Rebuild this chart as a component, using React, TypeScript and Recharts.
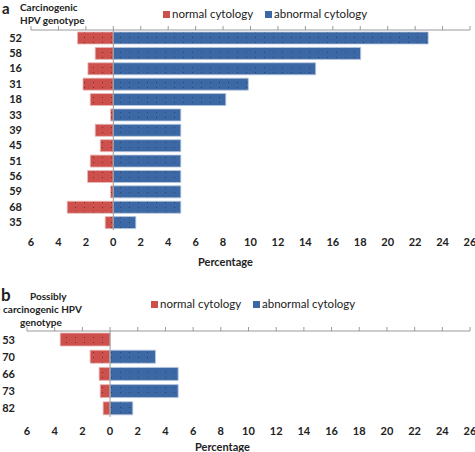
import React from "react";
import {
  Bar,
  BarChart,
  ReferenceLine,
  XAxis,
  YAxis,
} from "recharts";

const topGenotypes = ["52", "58", "16", "31", "18", "33", "39", "45", "51", "56", "59", "68", "35"];
const topNormal = [2.61, 1.32, 1.85, 2.21, 1.68, 0.2, 1.32, 0.95, 1.68, 1.88, 0.2, 3.36, 0.59];
const topAbnormal = [22.95, 18.03, 14.75, 9.84, 8.2, 4.92, 4.92, 4.92, 4.92, 4.92, 4.92, 4.92, 1.64];

const bottomGenotypes = ["53", "70", "66", "73", "82"];
const bottomNormal = [3.6, 1.44, 0.79, 0.71, 0.5];
const bottomAbnormal = [0, 3.28, 4.92, 4.92, 1.64];

const xTicks = [-6, -4, -2, 0, 2, 4, 6, 8, 10, 12, 14, 16, 18, 20, 22, 24, 26];

const RED = "#CD504C";
const BLUE = "#3C69A6";
const FONT = "Lato, 'Liberation Sans', sans-serif";

const tickStyle = { fontSize: 11, fontWeight: 700, fill: "#222", fontFamily: FONT };

function buildRows(names: string[], normal: number[], abnormal: number[]) {
  return names.map((g, i) => ({
    genotype: g,
    normal: -normal[i],
    abnormal: abnormal[i],
  }));
}

function Patterns() {
  return (
    <defs>
      <pattern id="dotRed" width="9" height="5" patternUnits="userSpaceOnUse">
        <rect width="9" height="5" fill={RED} />
        <rect x="3" y="2" width="1" height="1" fill="#3a2a2a" opacity="0.7" />
      </pattern>
      <pattern id="dotBlue" width="9" height="5" patternUnits="userSpaceOnUse">
        <rect width="9" height="5" fill={BLUE} />
        <rect x="3" y="2" width="1" height="1" fill="#2a2a2a" opacity="0.6" />
      </pattern>
    </defs>
  );
}

type PanelProps = {
  rows: ReturnType<typeof buildRows>;
  height: number;
  topAxis: number;
  bottomAxis: number;
  yWidth: number;
  rightMargin: number;
  barSize: number;
  labelGap: number;
  bottomTickMargin: number;
};

function Panel(p: PanelProps) {
  return (
    <BarChart
      width={475}
      height={p.height}
      data={p.rows}
      layout="vertical"
      stackOffset="sign"
      margin={{ top: 0, right: p.rightMargin, left: 0, bottom: 0 }}
      barSize={p.barSize}
    >
      <Patterns />
      <XAxis
        xAxisId="top"
        orientation="top"
        type="number"
        domain={[-6, 26]}
        ticks={xTicks}
        height={p.topAxis}
        tick={() => <g />}
        tickSize={4}
        axisLine={{ stroke: "#9a9a9a" }}
        tickLine={{ stroke: "#9a9a9a" }}
        interval={0}
        allowDataOverflow
      />
      <XAxis
        xAxisId="bottom"
        orientation="bottom"
        type="number"
        domain={[-6, 26]}
        ticks={xTicks}
        height={p.bottomAxis}
        tick={tickStyle}
        tickFormatter={(v) => String(Math.abs(v))}
        axisLine={false}
        tickLine={false}
        tickSize={6}
        tickMargin={p.bottomTickMargin}
        interval={0}
        allowDataOverflow
      />
      <YAxis
        type="category"
        dataKey="genotype"
        width={p.yWidth}
        axisLine={false}
        tickLine={false}
        tickSize={6}
        tickMargin={p.labelGap}
        tick={tickStyle}
        interval={0}
      />
      <Bar
        xAxisId="top"
        dataKey="normal"
        stackId="s"
        fill="url(#dotRed)"
        stroke="#e9b9b7"
        strokeWidth={0.8}
        isAnimationActive={false}
      />
      <Bar
        xAxisId="top"
        dataKey="abnormal"
        stackId="s"
        fill="url(#dotBlue)"
        stroke="#b9c8de"
        strokeWidth={0.8}
        isAnimationActive={false}
      />
      <ReferenceLine xAxisId="top" x={0} stroke="#9a9a9a" strokeWidth={1} />
    </BarChart>
  );
}

function LegendRow({ left, top }: { left: number; top: number }) {
  const item = (color: string, label: string, x: number) => (
    <div style={{ position: "absolute", left: x, top: 0, display: "flex", alignItems: "center", whiteSpace: "nowrap" }}>
      <span style={{ width: 7, height: 7, background: color, display: "inline-block", marginRight: 2 }} />
      <span>{label}</span>
    </div>
  );
  return (
    <div style={{ position: "absolute", left, top, fontSize: 11.5, fontFamily: FONT, color: "#222", lineHeight: "12px" }}>
      {item(RED, "normal cytology", 0)}
      {item(BLUE, "abnormal cytology", 102)}
    </div>
  );
}

const textBase: React.CSSProperties = {
  position: "absolute",
  fontFamily: FONT,
  fontWeight: 700,
  color: "#222",
  whiteSpace: "nowrap",
  lineHeight: "12px",
};

export default function App() {
  const topRows = buildRows(topGenotypes, topNormal, topAbnormal);
  const bottomRows = buildRows(bottomGenotypes, bottomNormal, bottomAbnormal);

  return (
    <div style={{ position: "absolute", left: 0, top: 0, width: 475, height: 452, background: "#fff", overflow: "hidden" }}>
      <div style={{ position: "absolute", left: 0, top: 0 }}>
        <Panel
          rows={topRows}
          height={275}
          topAxis={30}
          bottomAxis={45}
          yWidth={31}
          rightMargin={5}
          barSize={12}
          labelGap={3}
          bottomTickMargin={2}
        />
      </div>
      <div style={{ position: "absolute", left: 0, top: 300 }}>
        <Panel
          rows={bottomRows}
          height={152}
          topAxis={31}
          bottomAxis={35}
          yWidth={27}
          rightMargin={5}
          barSize={13}
          labelGap={6}
          bottomTickMargin={4}
        />
      </div>

      <div style={{ ...textBase, left: 2, top: 1, fontSize: 15, lineHeight: "15px" }}>a</div>
      <div style={{ ...textBase, left: 20, top: 1, fontSize: 10 }}>Carcinogenic</div>
      <div style={{ ...textBase, left: 20, top: 14, fontSize: 10 }}>HPV genotype</div>
      <LegendRow left={163} top={8} />
      <div style={{ ...textBase, left: 198, top: 256, fontSize: 11 }}>Percentage</div>

      <div style={{ ...textBase, left: 1, top: 286, fontSize: 17, lineHeight: "17px" }}>b</div>
      <div style={{ ...textBase, left: 30, top: 290, fontSize: 10 }}>Possibly</div>
      <div style={{ ...textBase, left: 3, top: 303, fontSize: 10 }}>carcinogenic HPV</div>
      <div style={{ ...textBase, left: 20, top: 316, fontSize: 10 }}>genotype</div>
      <LegendRow left={151} top={298} />
      <div style={{ ...textBase, left: 195, top: 441, fontSize: 11 }}>Percentage</div>
    </div>
  );
}
